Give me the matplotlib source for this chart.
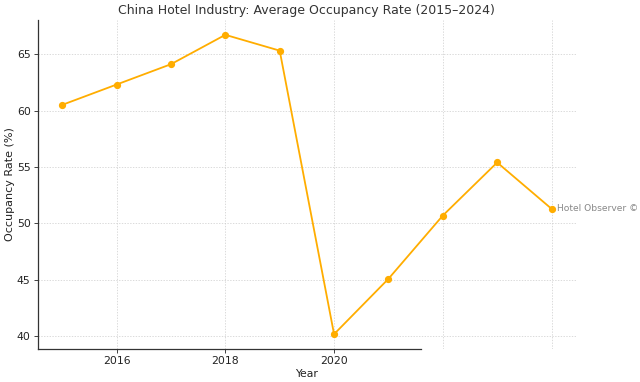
import matplotlib.pyplot as plt

years = [2015, 2016, 2017, 2018, 2019, 2020, 2021, 2022, 2023, 2024]
occupancy = [60.5, 62.3, 64.1, 66.7, 65.3, 40.2, 45.1, 50.7, 55.4, 51.3]
xtick_years = [2016, 2018, 2020, 2022, 2024]
xtick_labels = ["2016", "2018", "2020", "", ""]

fig = plt.figure(figsize=(6.4, 3.82), dpi=100)
ax = fig.add_axes([0.059, 0.086, 0.841, 0.862])

ax.plot(years, occupancy, color="#FFAD00", marker="o", markersize=4.2, linewidth=1.3)
ax.set_title("China Hotel Industry: Average Occupancy Rate (2015–2024)", fontsize=9, color="#333333", pad=4)
ax.set_xlabel("Year", fontsize=7.8, color="#222222", labelpad=2)
ax.set_ylabel("Occupancy Rate (%)", fontsize=8, color="#222222", labelpad=1.5)

ax.set_xticks(xtick_years)
ax.set_xticklabels(xtick_labels)
for t in ax.xaxis.get_major_ticks()[3:]:
    t.tick1line.set_visible(False)
ax.tick_params(labelsize=7.8, colors="#222222", length=2.6, width=0.6, pad=2.5)
ax.grid(True, linestyle=(0, (2, 2)), color="#cccccc", linewidth=0.5)

for side in ["top", "right"]:
    ax.spines[side].set_visible(False)
ax.spines["bottom"].set_bounds(ax.get_xlim()[0], 2021.6)
for side in ["left", "bottom"]:
    ax.spines[side].set_color("#333333")
    ax.spines[side].set_linewidth(0.9)

ax.annotate("Hotel Observer ©", (years[-1], occupancy[-1]), xytext=(4, 0),
            textcoords="offset points", va="center", ha="left",
            fontsize=6.6, color="#888888", annotation_clip=False)

fig.savefig("out.png", dpi=100)
